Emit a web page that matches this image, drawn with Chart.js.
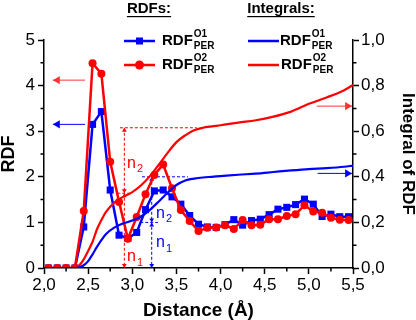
<!DOCTYPE html>
<html>
<head>
<meta charset="utf-8">
<script src="https://cdn.jsdelivr.net/npm/chart.js@4.4.0/dist/chart.umd.min.js"></script>
<style>
  html, body { margin: 0; padding: 0; background: #fff; }
</style>
</head>
<body>
<canvas id="chart" width="416" height="320"></canvas>
<script>
// RDF data (points every 0.1 Å, offset by 0.05)
const distance = [2.05, 2.15, 2.25, 2.35, 2.45, 2.55, 2.65, 2.75, 2.85, 2.95,
  3.05, 3.15, 3.25, 3.35, 3.45, 3.55, 3.65, 3.75, 3.85, 3.95,
  4.05, 4.15, 4.25, 4.35, 4.45, 4.55, 4.65, 4.75, 4.85, 4.95,
  5.05, 5.15, 5.25, 5.35, 5.45];
const rdfO1 = [0, 0, 0, 0, 0.9, 3.15, 3.43, 1.71, 0.72, 0.65,
  0.78, 1.28, 1.69, 1.71, 1.56, 1.40, 1.15, 0.96, 0.90, 0.89,
  0.95, 1.06, 0.94, 1.04, 1.07, 1.17, 1.29, 1.33, 1.39, 1.51,
  1.40, 1.13, 1.18, 1.125, 1.125];
const rdfO2 = [0, 0, 0, 0, 1.25, 4.49, 4.26, 2.33, 1.45, 0.64,
  1.12, 1.62, 2.04, 2.27, 1.75, 1.27, 1.03, 0.81, 0.88, 0.89,
  0.94, 0.855, 1.05, 0.94, 0.95, 1.07, 1.07, 1.14, 1.18, 1.375,
  1.24, 1.21, 1.10, 1.06, 1.05];

// Integrals of RDF (right axis)
const intDistance = [2.0, 2.1, 2.2, 2.3, 2.35, 2.4, 2.45, 2.5, 2.55, 2.6, 2.65, 2.7,
  2.8, 2.9, 3.0, 3.1, 3.2, 3.3, 3.4, 3.5, 3.6, 3.7, 3.8, 3.9, 4.0,
  4.2, 4.4, 4.6, 4.8, 5.0, 5.2, 5.4, 5.5];
const intO1 = [0, 0, 0, 0, 0, 0.003, 0.012, 0.03, 0.06, 0.093, 0.122, 0.148,
  0.178, 0.196, 0.208, 0.226, 0.255, 0.292, 0.330, 0.364, 0.384, 0.392, 0.397, 0.400, 0.403,
  0.409, 0.414, 0.421, 0.428, 0.434, 0.438, 0.444, 0.449];
const intO2 = [0, 0, 0, 0, 0, 0.012, 0.038, 0.075, 0.115, 0.17, 0.21, 0.245,
  0.288, 0.313, 0.333, 0.363, 0.403, 0.453, 0.505, 0.552, 0.582, 0.604, 0.615, 0.621, 0.626,
  0.638, 0.648, 0.664, 0.686, 0.72, 0.748, 0.78, 0.803];

// n1 / n2 markers: [x, integral at shell 1, integral at shell 2]
const markO1 = [3.22, 0.2, 0.4];
const markO2 = [2.91, 0.328, 0.615];

const BLUE = '#0000ff';
const RED = '#ff0000';
const FONT = "'Liberation Sans', Arial, sans-serif";

const comma = (v) => v.toFixed(1).replace('.', ',');
const toXY = (xs, ys) => xs.map((x, i) => ({ x: x, y: ys[i] }));

const arrowHead = (ctx, x, y, dir, s) => {
  ctx.beginPath();
  if (dir === 'up') { ctx.moveTo(x, y); ctx.lineTo(x - s * 0.6, y + s); ctx.lineTo(x + s * 0.6, y + s); }
  if (dir === 'down') { ctx.moveTo(x, y); ctx.lineTo(x - s * 0.6, y - s); ctx.lineTo(x + s * 0.6, y - s); }
  if (dir === 'left') { ctx.moveTo(x, y); ctx.lineTo(x + s, y - s * 0.6); ctx.lineTo(x + s, y + s * 0.6); }
  if (dir === 'right') { ctx.moveTo(x, y); ctx.lineTo(x - s, y - s * 0.6); ctx.lineTo(x - s, y + s * 0.6); }
  ctx.closePath();
  ctx.fill();
};

const richText = (ctx, x, y, base, sup, sub, size, subSize, weight) => {
  ctx.textBaseline = 'middle';
  ctx.textAlign = 'left';
  ctx.font = `${weight} ${size}px ${FONT}`;
  ctx.fillText(base, x, y);
  const w = ctx.measureText(base).width;
  ctx.font = `${weight} ${subSize}px ${FONT}`;
  if (sup) ctx.fillText(sup, x + w + 1, y - size * 0.42);
  if (sub) ctx.fillText(sub, x + w + 1, y + size * 0.38);
};

const overlayPlugin = {
  id: 'overlay',
  beforeDatasetsDraw(chart) {
    const { ctx, scales } = chart;
    const px = (v) => scales.x.getPixelForValue(v);
    const pr = (v) => scales.y1.getPixelForValue(v);
    const y0 = scales.y.getPixelForValue(0);

    const drawMark = (m, x1, x2, color) => {
      const x = px(m[0]);
      ctx.save();
      ctx.strokeStyle = color;
      ctx.fillStyle = color;
      ctx.lineWidth = 1;
      ctx.setLineDash([3, 2]);
      ctx.beginPath();
      ctx.moveTo(x, pr(m[2])); ctx.lineTo(x, y0);
      ctx.moveTo(px(x1[0]), pr(m[1])); ctx.lineTo(px(x1[1]), pr(m[1]));
      ctx.moveTo(px(x2[0]), pr(m[2])); ctx.lineTo(px(x2[1]), pr(m[2]));
      ctx.stroke();
      ctx.setLineDash([]);
      arrowHead(ctx, x, pr(m[2]), 'up', 4);
      arrowHead(ctx, x, pr(m[1]), 'down', 4);
      arrowHead(ctx, x, pr(m[1]), 'up', 4);
      arrowHead(ctx, x, y0, 'down', 4);
      ctx.restore();
    };
    drawMark(markO2, [2.83, 2.98], [2.86, 3.73], RED);
    drawMark(markO1, [3.09, 3.29], [3.11, 3.63], BLUE);
  },
  afterDraw(chart) {
    const { ctx, scales, chartArea } = chart;
    const px = (v) => scales.x.getPixelForValue(v);
    const pl = (v) => scales.y.getPixelForValue(v);
    const pr = (v) => scales.y1.getPixelForValue(v);

    ctx.save();
    // minor ticks
    ctx.strokeStyle = '#000';
    ctx.lineWidth = 1.5;
    ctx.beginPath();
    for (let v = 2.25; v < 5.5; v += 0.5) {
      ctx.moveTo(px(v), chartArea.bottom); ctx.lineTo(px(v), chartArea.bottom + 3.5);
    }
    for (let v = 0.5; v < 5; v += 1) {
      ctx.moveTo(chartArea.left, pl(v)); ctx.lineTo(chartArea.left - 3.5, pl(v));
    }
    for (let v = 0.1; v < 1; v += 0.2) {
      ctx.moveTo(chartArea.right, pr(v)); ctx.lineTo(chartArea.right + 3.5, pr(v));
    }
    ctx.stroke();

    // axis pointer arrows
    const pointer = (xa, xb, y, color, dir) => {
      ctx.strokeStyle = color;
      ctx.fillStyle = color;
      ctx.lineWidth = 1;
      ctx.beginPath(); ctx.moveTo(xa, y); ctx.lineTo(xb, y); ctx.stroke();
      arrowHead(ctx, xb, y, dir, 7);
    };
    pointer(px(2.465), px(2.10), pl(4.12), '#ff3333', 'left');
    pointer(px(2.465), px(2.10), pl(3.15), BLUE, 'left');
    pointer(px(5.09), px(5.49), pr(0.71), '#ff3333', 'right');
    pointer(px(5.10), px(5.49), pr(0.415), BLUE, 'right');

    // n1 / n2 labels
    ctx.fillStyle = RED;
    richText(ctx, px(2.94), pl(2.3), 'n', null, '2', 16, 11, 'normal');
    richText(ctx, px(2.94), pl(0.25), 'n', null, '1', 16, 11, 'normal');
    ctx.fillStyle = BLUE;
    richText(ctx, px(3.27), pl(1.2), 'n', null, '2', 16, 11, 'normal');
    richText(ctx, px(3.27), pl(0.55), 'n', null, '1', 16, 11, 'normal');

    // headers
    ctx.fillStyle = '#000';
    ctx.font = `bold 15px ${FONT}`;
    ctx.textAlign = 'center';
    ctx.textBaseline = 'middle';
    const header = (t, x) => {
      ctx.fillText(t, x, 9);
      const w = ctx.measureText(t).width;
      ctx.fillRect(x - w / 2, 16, w, 1.2);
    };
    header('RDFs:', 149);
    header('Integrals:', 281);

    // legend
    const legendRow = (x, y, color, marker, sup, tx) => {
      ctx.strokeStyle = color;
      ctx.fillStyle = color;
      ctx.lineWidth = 2.5;
      ctx.beginPath(); ctx.moveTo(x, y); ctx.lineTo(x + 31, y); ctx.stroke();
      if (marker === 'rect') ctx.fillRect(x + 12, y - 3.5, 7, 7);
      if (marker === 'circle') { ctx.beginPath(); ctx.arc(x + 15.5, y, 4.5, 0, Math.PI * 2); ctx.fill(); }
      ctx.fillStyle = '#000';
      richText(ctx, tx, y, 'RDF', sup, 'PER', 15, 10, 'bold');
    };
    legendRow(124, 41, BLUE, 'rect', 'O1', 162);
    legendRow(124, 65, RED, 'circle', 'O2', 162);
    legendRow(248, 41, BLUE, null, 'O1', 280);
    legendRow(248, 65, RED, null, 'O2', 281);
    ctx.restore();
  },
};

const axisCommon = {
  grid: { drawOnChartArea: false, drawTicks: true, tickLength: 6, tickColor: '#000', tickWidth: 1.5 },
  border: { display: true, color: '#000', width: 1.5 },
};

new Chart(document.getElementById('chart'), {
  type: 'line',
  data: {
    datasets: [
      {
        label: 'Integral O1',
        data: toXY(intDistance, intO1),
        yAxisID: 'y1',
        borderColor: BLUE,
        borderWidth: 2.2,
        pointRadius: 0,
        cubicInterpolationMode: 'monotone',
        order: 1,
      },
      {
        label: 'Integral O2',
        data: toXY(intDistance, intO2),
        yAxisID: 'y1',
        borderColor: RED,
        borderWidth: 2.2,
        pointRadius: 0,
        cubicInterpolationMode: 'monotone',
        order: 2,
      },
      {
        label: 'RDF O2',
        data: toXY(distance, rdfO2),
        yAxisID: 'y',
        borderColor: RED,
        backgroundColor: RED,
        borderWidth: 2.5,
        pointStyle: 'circle',
        pointRadius: 4,
        pointBorderWidth: 0,
        tension: 0,
        order: 3,
      },
      {
        label: 'RDF O1',
        data: toXY(distance, rdfO1),
        yAxisID: 'y',
        borderColor: BLUE,
        backgroundColor: BLUE,
        borderWidth: 2.5,
        pointStyle: 'rect',
        pointRadius: 5,
        pointBorderWidth: 0,
        tension: 0,
        order: 4,
      },
    ],
  },
  options: {
    responsive: false,
    animation: false,
    layout: { padding: { top: 40, left: 0, right: 0, bottom: 0 } },
    plugins: {
      legend: { display: false },
      tooltip: { enabled: false },
    },
    scales: {
      x: {
        type: 'linear',
        min: 2,
        max: 5.5,
        ...axisCommon,
        ticks: { stepSize: 0.5, callback: (v) => comma(v), color: '#000', font: { family: FONT, size: 17 }, padding: 1 },
        title: { display: true, text: 'Distance (Å)', color: '#000', font: { family: FONT, size: 19, weight: 'bold', lineHeight: 1 }, padding: 0 },
        afterFit: (scale) => { scale.height = 52; },
      },
      y: {
        position: 'left',
        min: 0,
        max: 5,
        ...axisCommon,
        ticks: { stepSize: 1, color: '#000', font: { family: FONT, size: 17 }, padding: 3 },
        title: { display: true, text: 'RDF', color: '#000', font: { family: FONT, size: 18, weight: 'bold', lineHeight: 1 }, padding: 0 },
        afterFit: (scale) => { scale.width = 44; },
      },
      y1: {
        position: 'right',
        min: 0,
        max: 1,
        ...axisCommon,
        ticks: { stepSize: 0.2, callback: (v) => comma(v), color: '#000', font: { family: FONT, size: 17 }, padding: 2 },
        title: { display: true, text: 'Integral of RDF', color: '#000', font: { family: FONT, size: 17, weight: 'bold', lineHeight: 1 }, padding: 0 },
        afterFit: (scale) => { scale.width = 63; },
      },
    },
  },
  plugins: [overlayPlugin],
});
</script>
</body>
</html>
